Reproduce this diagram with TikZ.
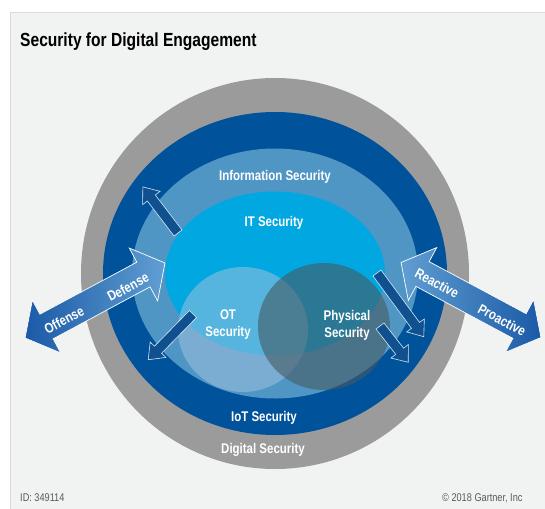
\documentclass[tikz,border=0pt]{standalone}
\usepackage{fontspec}
\setmainfont{Liberation Sans}
\newfontfamily\narrowfont[FakeStretch=0.82]{Liberation Sans}
\definecolor{panelbg}{HTML}{F1F2F2}
\definecolor{panelline}{HTML}{D9DBDB}
\definecolor{ringgray}{HTML}{9B9B9B}
\definecolor{iotblue}{HTML}{00529B}
\definecolor{infoblue}{HTML}{5096C5}
\definecolor{itcyan}{HTML}{00A7E1}
\definecolor{otfill}{HTML}{9EC1DC}
\definecolor{physfill}{HTML}{465A61}
\definecolor{arrdark}{HTML}{1B5AA6}
\definecolor{arrlight}{HTML}{609ED2}
\definecolor{smallarr}{HTML}{10508F}
\definecolor{smallline}{HTML}{D3E6F4}
\definecolor{foot}{HTML}{5A5A5A}
\tikzset{
  lbl/.style={text=white, font=\narrowfont\bfseries\fontsize{14}{17}\selectfont, align=center, inner sep=0pt},
  arrlbl/.style={text=white, font=\narrowfont\bfseries\fontsize{14}{17}\selectfont, inner sep=0pt},
  footlbl/.style={text=foot, font=\narrowfont\fontsize{11.2}{13}\selectfont, inner sep=0pt},
  smallarrow/.style={fill=smallarr, draw=smallline, line width=0.6pt, line join=miter},
  bigarrowstyle/.style={draw=white, line width=0.7pt, line join=miter}
}
\begin{document}
\begin{tikzpicture}[x=1pt,y=-1pt]
\useasboundingbox (0,0) rectangle (545,508);
\fill[white] (0,0) rectangle (545,508);
\filldraw[fill=panelbg, draw=panelline, line width=0.8pt] (10.5,12.5) rectangle (547,510);

% title
\node[anchor=base west, inner sep=0pt, font=\narrowfont\bfseries\fontsize{19}{22}\selectfont] (title) at (20,47) {Security for Digital Engagement};

% concentric rings
\coordinate (c) at (275,273.5);
\fill[ringgray] (c) ellipse [x radius=194pt, y radius=195.5pt];
\fill[iotblue] (c) ellipse [x radius=172pt, y radius=161.5pt];
\fill[infoblue] (c) ellipse [x radius=143pt, y radius=125pt];
\fill[itcyan] (c) ellipse [x radius=110pt, y radius=82pt];

% OT and Physical
\fill[otfill, fill opacity=0.54] (243,329.5) ellipse [x radius=65pt, y radius=62.5pt];
\fill[physfill, fill opacity=0.6] (324,326.5) ellipse [x radius=66pt, y radius=63.5pt];

% small arrows: tail at origin, pointing along +x
\begin{scope}[shift={(178,233)}, rotate=127.3]
  \path[smallarrow] (0,-5) -- (44,-5) -- (44,-11) -- (58,0) -- (44,11) -- (44,5) -- (0,5) -- cycle;
\end{scope}
\begin{scope}[shift={(193,314)}, rotate=-134.4]
  \path[smallarrow] (0,-5) -- (50,-5) -- (50,-11) -- (64,0) -- (50,11) -- (50,5) -- (0,5) -- cycle;
\end{scope}
\begin{scope}[shift={(377,273)}, rotate=-53.7]
  \path[smallarrow] (0,-5) -- (65,-5) -- (65,-11) -- (79,0) -- (65,11) -- (65,5) -- (0,5) -- cycle;
\end{scope}
\begin{scope}[shift={(380,326)}, rotate=-52.1]
  \path[smallarrow] (0,-5) -- (32,-5) -- (32,-11) -- (46,0) -- (32,11) -- (32,5) -- (0,5) -- cycle;
\end{scope}

% big double arrows
\begin{scope}[shift={(95,300.5)}, rotate=28.2]
  \path[bigarrowstyle, left color=arrdark, right color=arrlight]
    (-79.4,0) -- (-55,30) -- (-55,14) -- (55,14) -- (55,30) -- (79.4,0) -- (55,-30) -- (55,-14) -- (-55,-14) -- (-55,-30) -- cycle;
\end{scope}
\begin{scope}[shift={(471,300)}, rotate=-28.2]
  \path[bigarrowstyle, left color=arrlight, right color=arrdark]
    (-79.4,0) -- (-55,30) -- (-55,14) -- (55,14) -- (55,30) -- (79.4,0) -- (55,-30) -- (55,-14) -- (-55,-14) -- (-55,-30) -- cycle;
\end{scope}

% labels
\node[lbl] (info) at (275,177) {Information Security};
\node[lbl] (it) at (274,223) {IT Security};
\node[lbl] (ot) at (228,325) {OT\\Security};
\node[lbl] (phys) at (347,325) {Physical\\Security};
\node[lbl] (iot) at (264,418) {IoT Security};
\node[lbl] (digital) at (263,450) {Digital Security};
\node[arrlbl, rotate=28.2] (offense) at (64,320) {Offense};
\node[arrlbl, rotate=28.2] (defense) at (128,287) {Defense};
\node[arrlbl, rotate=-28.2] (reactive) at (437,283) {Reactive};
\node[arrlbl, rotate=-28.2] (proactive) at (502,320) {Proactive};

% footer
\node[footlbl, anchor=base west] (id) at (20,501) {ID: 349114};
\node[footlbl, anchor=base west] (copy) at (442,501) {© 2018 Gartner, Inc};
\end{tikzpicture}
\end{document}
